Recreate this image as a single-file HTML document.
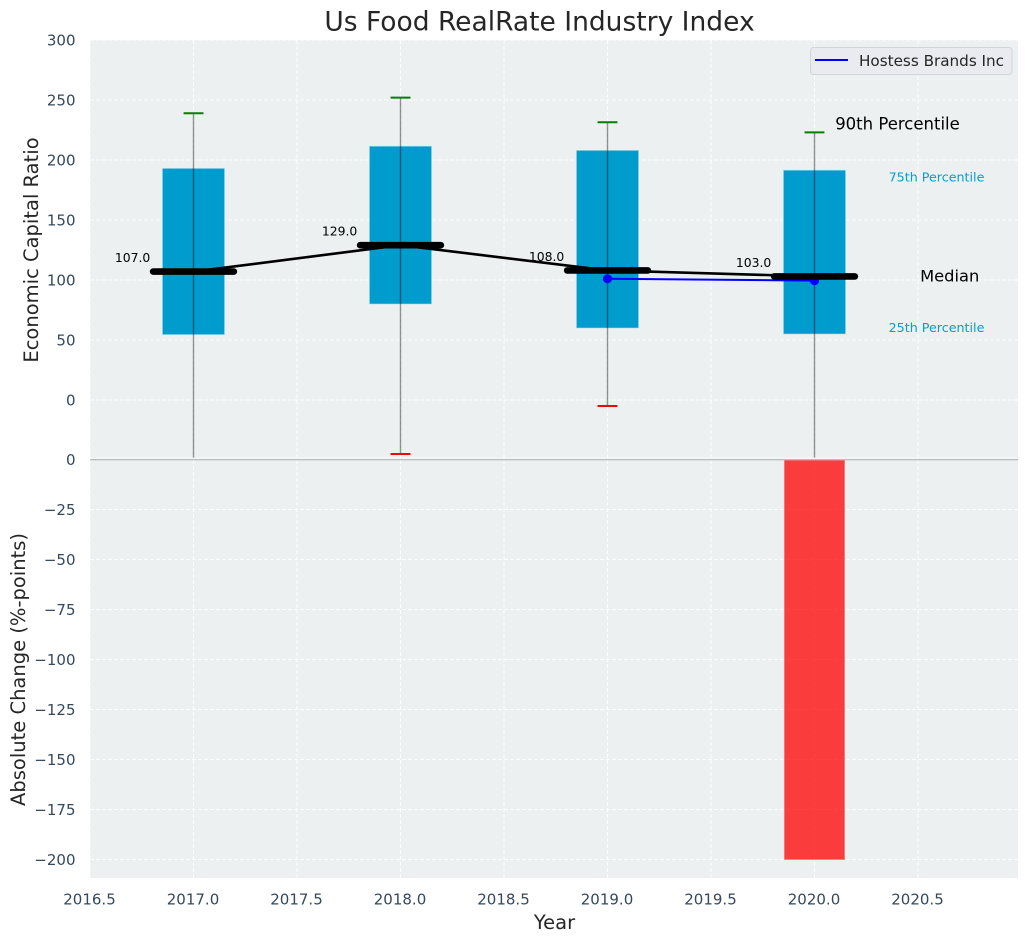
<!DOCTYPE html>
<html>
<head>
<meta charset="utf-8">
<title>Us Food RealRate Industry Index</title>
<style>
html,body{margin:0;padding:0;background:#fff;width:1029px;height:942px;overflow:hidden}
svg{display:block;font-family:"DejaVu Sans","Liberation Sans",sans-serif}
</style>
</head>
<body>
<svg id="chart" xmlns="http://www.w3.org/2000/svg" width="1029" height="942" viewBox="0 0 1029 942">
  <defs>
    <clipPath id="clip-top"><rect x="90" y="40" width="928" height="418"></rect></clipPath>
    <clipPath id="clip-bottom"><rect x="90" y="460" width="928" height="418"></rect></clipPath>
  </defs>
  <rect x="90" y="40" width="928" height="419" fill="#ecf0f1"></rect>
  <rect x="90" y="459" width="928" height="419" fill="#ecf0f1"></rect>
  <g id="grid"></g>
  <g id="bars" clip-path="url(#clip-bottom)"></g>
  <g id="top" clip-path="url(#clip-top)"></g>
  <g id="ticks"></g>
  <g id="notes"></g>
  <line x1="90" x2="1018" y1="458.2" y2="458.2" stroke="#ffffff" stroke-width="1.2"></line>
  <line x1="90" x2="1018" y1="459.6" y2="459.6" stroke="#bdbfbf" stroke-width="1.5"></line>
  <text x="539.5" y="30.5" font-size="26.5px" text-anchor="middle" fill="#262626">Us Food RealRate Industry Index</text>
  <text transform="translate(38,250) rotate(-90)" font-size="19.5px" text-anchor="middle" fill="#262626">Economic Capital Ratio</text>
  <text transform="translate(25,669.5) rotate(-90)" font-size="19.5px" text-anchor="middle" fill="#262626">Absolute Change (%-points)</text>
  <text x="554.5" y="929" font-size="19.5px" text-anchor="middle" fill="#262626">Year</text>
  <g>
    <rect x="810.5" y="47.5" width="201.5" height="27" rx="3" fill="#e9ebf0" stroke="#d2d4d8" stroke-width="1"></rect>
    <line x1="815" x2="848" y1="60" y2="60" stroke="#0000ff" stroke-width="2"></line>
    <text x="859" y="66" font-size="15.2px" fill="#262626">Hostess Brands Inc</text>
  </g>
</svg>
<script>
var years = [2017, 2018, 2019, 2020];
var p90 = [239, 252, 231.5, 223];
var p75 = [193, 211.5, 208, 191.5];
var medians = [107, 129, 108, 103];
var p25 = [54.5, 80, 60, 55];
var p10 = [-60, -45, -5, -70];
var companyYears = [2019, 2020];
var companyValues = [101, 99.5];
var changeYears = [2020];
var changeValues = [-200];
var xTicks = [2016.5, 2017, 2017.5, 2018, 2018.5, 2019, 2019.5, 2020, 2020.5];
var topYTicks = [300, 250, 200, 150, 100, 50, 0];
var bottomYTicks = [0, -25, -50, -75, -100, -125, -150, -175, -200];

var NS = 'http://www.w3.org/2000/svg';
function xs(v){ return 90 + (v - 2016.5) * 207; }
function yTop(v){ return 400 - v * 1.2; }
function yBot(v){ return 459.5 - v * 2; }
function mk(tag, attrs, parent){
  var el = document.createElementNS(NS, tag);
  for (var k in attrs) { el.setAttribute(k, attrs[k]); }
  parent.appendChild(el);
  return el;
}
var gGrid = document.getElementById('grid');
var gBars = document.getElementById('bars');
var gTop = document.getElementById('top');
var gTicks = document.getElementById('ticks');
var gNotes = document.getElementById('notes');
var GRID = {stroke:'#ffffff','stroke-width':1,'stroke-dasharray':'4 2',opacity:0.9};
var TICK_SIZE = '15px';

xTicks.forEach(function(t){
  var g = mk('line', Object.assign({x1:xs(t),x2:xs(t),y1:40,y2:878}, GRID), gGrid);
  
  
  var l = mk('text', {x:xs(t)-0.5,y:904.5,'font-size':TICK_SIZE,'text-anchor':'middle',fill:'#34495e'}, gTicks);
  l.textContent = t.toFixed(1);
  
  
});
topYTicks.forEach(function(t){
  var g = mk('line', Object.assign({x1:90,x2:1018,y1:yTop(t),y2:yTop(t)}, GRID), gGrid);
  
  
  var l = mk('text', {x:75.5,y:yTop(t)+5.5,'font-size':TICK_SIZE,'text-anchor':'end',fill:'#34495e'}, gTicks);
  l.textContent = String(t);
  
  
});
bottomYTicks.forEach(function(t){
  var g = mk('line', Object.assign({x1:90,x2:1018,y1:yBot(t),y2:yBot(t)}, GRID), gGrid);
  
  
  var l = mk('text', {x:75.5,y:yBot(t)+5.5,'font-size':TICK_SIZE,'text-anchor':'end',fill:'#34495e'}, gTicks);
  l.textContent = String(t).replace('-', '\u2212');
  
  
});

changeYears.forEach(function(yr, i){
  var v = changeValues[i];
  var b = mk('rect', {x:xs(yr-0.145),width:xs(yr+0.145)-xs(yr-0.145),y:Math.min(yBot(0),yBot(v)),height:Math.abs(yBot(v)-yBot(0)),fill:'#ff0000','fill-opacity':0.75,stroke:'#ff6666','stroke-width':0.6}, gBars);
  
  
});

years.forEach(function(yr, i){
  var b = mk('rect', {x:xs(yr-0.15),width:xs(yr+0.15)-xs(yr-0.15),y:yTop(p75[i]),height:yTop(p25[i])-yTop(p75[i]),fill:'#009ccd',stroke:'#a8dcec','stroke-width':0.6}, gTop);
  
  
});
years.forEach(function(yr, i){
  var w = mk('line', {x1:xs(yr),x2:xs(yr),y1:yTop(p90[i]),y2:yTop(p10[i]),stroke:'#000000','stroke-opacity':0.42,'stroke-width':1.4}, gTop);
  
  
  var hi = mk('line', {x1:xs(yr-0.048),x2:xs(yr+0.048),y1:yTop(p90[i]),y2:yTop(p90[i]),stroke:'#008000','stroke-width':2}, gTop);
  
  
  var lo = mk('line', {x1:xs(yr-0.048),x2:xs(yr+0.048),y1:yTop(p10[i]),y2:yTop(p10[i]),stroke:'#ff0000','stroke-width':2}, gTop);
  
  
});

var cPts = companyYears.map(function(yr, i){ return xs(yr) + ',' + yTop(companyValues[i]); }).join(' ');
var cLine = mk('polyline', {points:cPts,fill:'none',stroke:'#0000ff','stroke-width':2}, gTop);


companyYears.forEach(function(yr, i){
  var c = mk('circle', {cx:xs(yr),cy:yTop(companyValues[i]),r:4.6,fill:'#0000ff'}, gTop);
  
  
});

var mPts = years.map(function(yr, i){ return xs(yr) + ',' + yTop(medians[i]); }).join(' ');
var mLine = mk('polyline', {points:mPts,fill:'none',stroke:'#000000','stroke-width':2.6}, gTop);


years.forEach(function(yr, i){
  var m = mk('line', {x1:xs(yr-0.195),x2:xs(yr+0.195),y1:yTop(medians[i]),y2:yTop(medians[i]),stroke:'#000000','stroke-width':6.6,'stroke-linecap':'round'}, gTop);
  
  
  var t = mk('text', {x:xs(yr-0.38),y:yTop(medians[i])-9.5,'font-size':'12.4px',fill:'#000000'}, gNotes);
  t.textContent = medians[i].toFixed(1);
  
  
});

var last = years.length - 1;
var lx = years[last];
var n90 = mk('text', {x:xs(lx+0.1),y:yTop(p90[last])-3,'font-size':'16.5px',fill:'#000000'}, gNotes);
n90.textContent = '90th Percentile';


var n75 = mk('text', {x:xs(lx+0.358),y:yTop(p75[last])+11.5,'font-size':'12.7px',fill:'#00a0d2'}, gNotes);
n75.textContent = '75th Percentile';


var nMed = mk('text', {x:xs(lx+0.51),y:yTop(medians[last])+5,'font-size':'16.3px',fill:'#000000'}, gNotes);
nMed.textContent = 'Median';


var n25 = mk('text', {x:xs(lx+0.358),y:yTop(p25[last])-2,'font-size':'12.7px',fill:'#00a0d2'}, gNotes);
n25.textContent = '25th Percentile';


</script>
</body>
</html>
